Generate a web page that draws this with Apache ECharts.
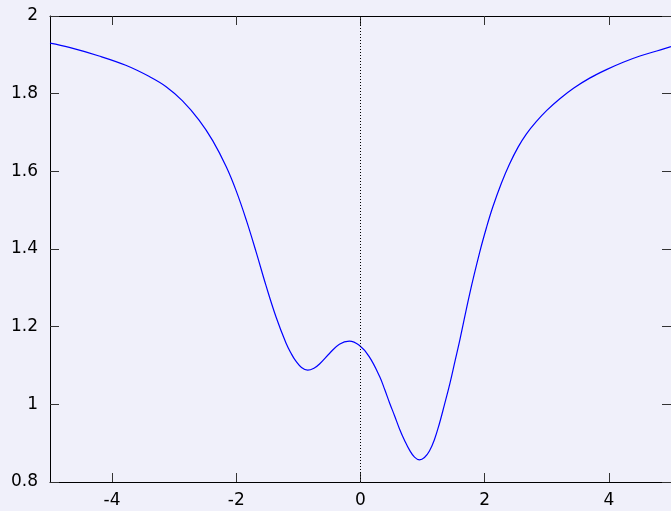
<!DOCTYPE html>
<html>
<head>
<meta charset="utf-8">
<script src="https://cdn.jsdelivr.net/npm/echarts@6/dist/echarts.min.js"></script>
<style>
html,body{margin:0;padding:0;background:#f0f0fa;}
#c{width:671px;height:511px;}
</style>
</head>
<body>
<div id="c"></div>
<script>
const xValues = [-5.00,-4.69,-4.21,-3.78,-3.40,-3.13,-2.87,-2.60,-2.38,-2.16,-2.00,-1.84,-1.68,-1.52,-1.36,-1.20,-1.12,-1.04,-0.95,-0.85,-0.75,-0.66,-0.50,-0.34,-0.18,-0.02,0.14,0.31,0.39,0.47,0.55,0.63,0.71,0.79,0.87,0.95,1.03,1.11,1.19,1.27,1.35,1.44,1.52,1.60,1.76,1.92,2.03,2.13,2.27,2.40,2.54,2.67,2.83,3.00,3.21,3.43,3.69,3.96,4.23,4.50,4.77,5.00];
const yValues = [1.930,1.919,1.897,1.873,1.844,1.818,1.782,1.732,1.679,1.611,1.549,1.475,1.392,1.305,1.225,1.158,1.132,1.111,1.095,1.088,1.093,1.104,1.131,1.155,1.163,1.152,1.123,1.071,1.038,1.003,0.970,0.936,0.907,0.882,0.864,0.857,0.863,0.880,0.909,0.950,0.998,1.054,1.110,1.166,1.286,1.392,1.456,1.508,1.570,1.619,1.663,1.696,1.728,1.757,1.787,1.814,1.840,1.862,1.881,1.897,1.910,1.921];
const xTicks = [-4,-2,0,2,4];
const yTicks = [0.8,1,1.2,1.4,1.6,1.8,2];

const data = xValues.map((x,i)=>[x,yValues[i]]);
const chart = echarts.init(document.getElementById('c'), null, {renderer:'canvas'});
const font = {fontFamily:'DejaVu Sans', fontSize:17, color:'#000'};
chart.setOption({
  backgroundColor:'#f0f0fa',
  animation:false,
  grid:{left:50, top:16, right:0, bottom:29},
  xAxis:[{
    type:'value', min:-5, max:5, position:'bottom',
    axisLine:{onZero:false, lineStyle:{color:'#000', width:1}},
    axisTick:{inside:true, length:9, customValues:xTicks, lineStyle:{color:'#333'}},
    axisLabel:Object.assign({margin:10, customValues:xTicks}, font),
    splitLine:{show:false}
  },{
    type:'value', min:-5, max:5, position:'top',
    axisLine:{onZero:false, lineStyle:{color:'#000', width:1}},
    axisTick:{inside:true, length:9, customValues:xTicks, lineStyle:{color:'#333'}},
    axisLabel:{show:false},
    splitLine:{show:false}
  }],
  yAxis:[{
    type:'value', min:0.8, max:2, interval:0.2, position:'left',
    axisLine:{show:true, onZero:false, lineStyle:{color:'#000', width:1}},
    axisTick:{show:true, inside:true, length:9, lineStyle:{color:'#333'}},
    axisLabel:Object.assign({margin:12, formatter:v=>String(+v.toFixed(1))}, font),
    splitLine:{show:false}
  },{
    type:'value', min:0.8, max:2, interval:0.2, position:'right',
    axisLine:{show:false, onZero:false},
    axisTick:{show:true, inside:true, length:9, lineStyle:{color:'#333'}},
    axisLabel:{show:false},
    splitLine:{show:false}
  }],
  series:[{
    type:'line', data:data, smooth:0.4, showSymbol:false,
    lineStyle:{color:'#0000ff', width:1.2},
    markLine:{
      silent:true, symbol:'none', label:{show:false},
      lineStyle:{color:'#000', type:[1,2], width:1},
      data:[{xAxis:0}]
    }
  }]
});
</script>
</body>
</html>
